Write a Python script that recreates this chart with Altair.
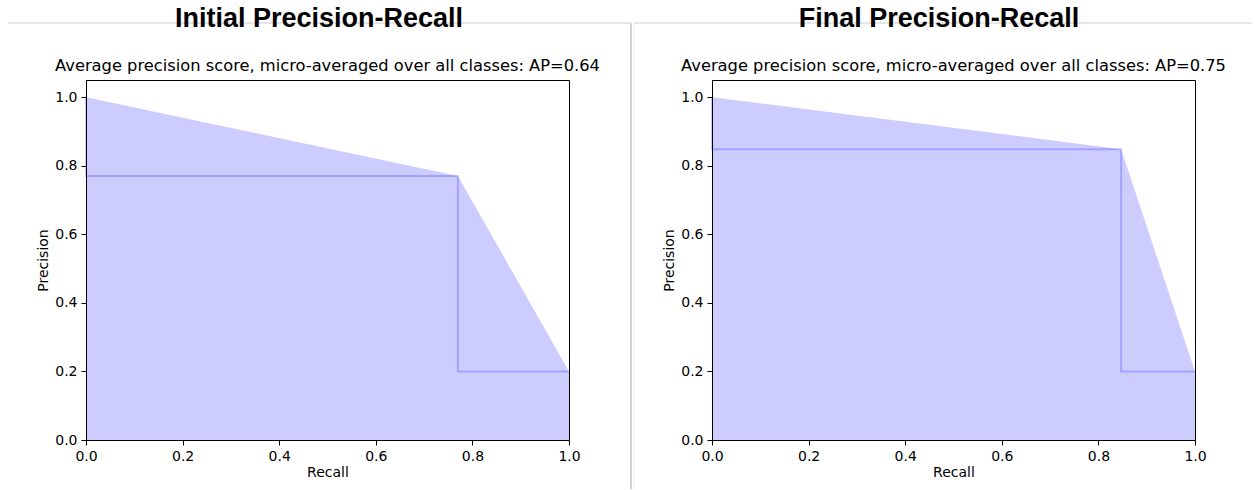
import altair as alt
import pandas as pd

# ---- data ----
PANEL_TITLES = ["Initial Precision-Recall", "Final Precision-Recall"]
SUBTITLES = [
    "Average precision score, micro-averaged over all classes: AP=0.64",
    "Average precision score, micro-averaged over all classes: AP=0.75",
]
INITIAL_RECALL = [0.0, 0.77, 1.0]
INITIAL_PRECISION = [1.0, 0.77, 0.2]
FINAL_RECALL = [0.0, 0.847, 1.0]
FINAL_PRECISION = [1.0, 0.848, 0.2]
TICKS = [0.0, 0.2, 0.4, 0.6, 0.8, 1.0]

W, H = 483, 360
FONT = "DejaVu Sans"
TITLE_FONT = "Liberation Sans"


def panel(recall, precision, title, subtitle, left):
    df = pd.DataFrame({"Recall": recall, "Precision": precision})
    axis_common = dict(values=TICKS, format=".1f", grid=False, tickSize=5,
                       tickColor="black", domainColor="black", labelColor="black",
                       titleColor="black", labelFont=FONT, titleFont=FONT,
                       labelFontSize=14, titleFontSize=14, titleFontWeight="normal",
                       labelPadding=4, labelFlush=False, zindex=1)
    x = alt.X("Recall:Q", scale=alt.Scale(domain=[0, 1], nice=False, zero=False),
              axis=alt.Axis(titlePadding=2, **axis_common))
    y = alt.Y("Precision:Q", scale=alt.Scale(domain=[0, 1.05], nice=False, zero=False),
              axis=alt.Axis(titlePadding=4, **axis_common))
    area = alt.Chart(df).mark_area(color="blue", opacity=0.2, interpolate="linear").encode(
        x=x, y=y, y2=alt.datum(0))
    step = alt.Chart(df).mark_line(color="blue", opacity=0.2, strokeWidth=2,
                                   interpolate="step-before").encode(x=x, y=y)

    tdf = pd.DataFrame({"t": [title]})
    big = alt.Chart(tdf).mark_text(font=TITLE_FONT, fontSize=27, fontWeight="bold",
                                   color="black", align="center", baseline="alphabetic").encode(
        x=alt.value(233 if left else 227), y=alt.value(-53), text="t:N")
    sdf = pd.DataFrame({"t": [subtitle]})
    sub = alt.Chart(sdf).mark_text(font=FONT, fontSize=16.3, color="black",
                                   align="center", baseline="alphabetic").encode(
        x=alt.value(W / 2), y=alt.value(-9), text="t:N")

    one = pd.DataFrame({"k": [0]})
    layers = [area, step]
    if left:
        hline = alt.Chart(one).mark_rule(color="#dedede", strokeWidth=1.5).encode(
            x=alt.value(-78), x2=alt.value(545), y=alt.value(-57))
        vline = alt.Chart(one).mark_rule(color="#c4c4c4", strokeWidth=1.5).encode(
            x=alt.value(545), y=alt.value(-57), y2=alt.value(409))
        vline2 = alt.Chart(one).mark_rule(color="#eeeeee", strokeWidth=1).encode(
            x=alt.value(548), y=alt.value(-57), y2=alt.value(409))
        layers += [hline, vline, vline2]
    else:
        hline = alt.Chart(one).mark_rule(color="#dedede", strokeWidth=1.5).encode(
            x=alt.value(-78), x2=alt.value(540), y=alt.value(-57))
        layers += [hline]
    layers += [big, sub]
    return alt.layer(*layers).properties(width=W, height=H)


left = panel(INITIAL_RECALL, INITIAL_PRECISION, PANEL_TITLES[0], SUBTITLES[0], True)
right = panel(FINAL_RECALL, FINAL_PRECISION, PANEL_TITLES[1], SUBTITLES[1], False)

chart = alt.hconcat(left, right, spacing=143, bounds="flush").properties(
    padding={"left": 6, "top": 4, "right": 0, "bottom": 0},
    background="white",
).configure_view(stroke="black", strokeWidth=1)

chart.save("out.html", embed_options={"renderer": "svg", "actions": False})
